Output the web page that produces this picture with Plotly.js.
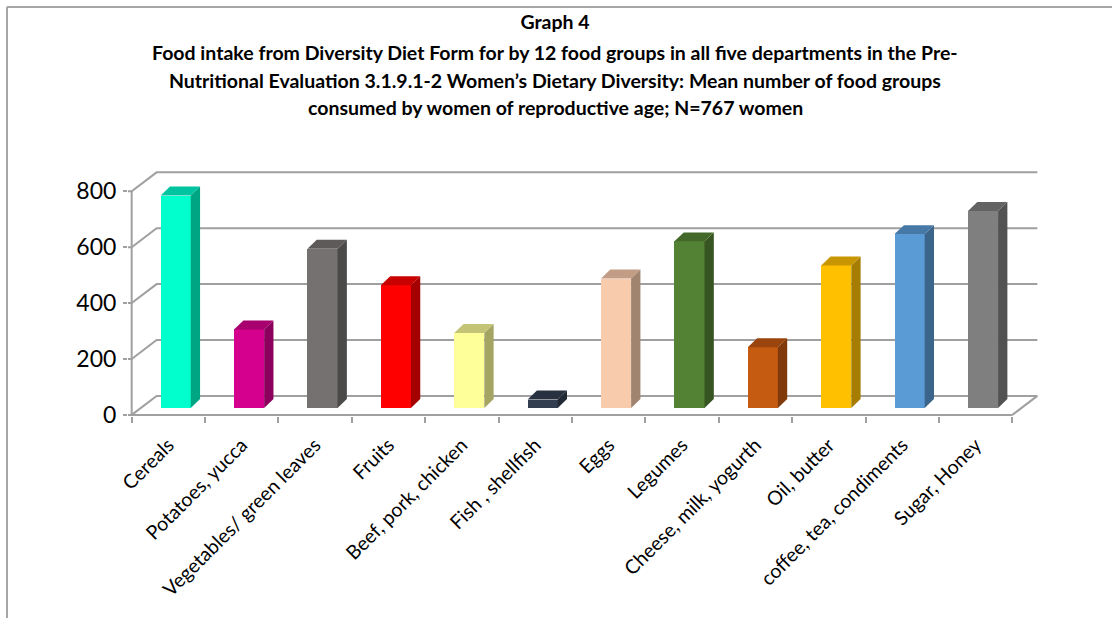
<!DOCTYPE html>
<html>
<head>
<meta charset="utf-8">
<script src="https://cdn.plot.ly/plotly-3.0.1.min.js"></script>
<style>html,body{margin:0;padding:0;background:#fff;}#chart{width:1112px;height:618px;}</style>
</head>
<body>
<div id="chart"></div>
<script>
// ---- data ----
const categories = ["Cereals", "Potatoes, yucca", "Vegetables/ green leaves", "Fruits", "Beef, pork, chicken",
  "Fish , shellfish", "Eggs", "Legumes", "Cheese, milk, yogurth", "Oil, butter", "coffee, tea, condiments", "Sugar, Honey"];
const values = [760, 281, 570, 439, 268, 30, 463, 596, 217, 510, 622, 705];
const yTicks = [0, 200, 400, 600, 800];

// ---- styles ----
const frontColors = ['#00FFCC','#D6008F','#767171','#FF0000','#FFFF99','#333F50','#F8CBAD','#548235','#C55A11','#FFC000','#5B9BD5','#7F7F7F'];
const sideColors  = ['#00A583','#8B005D','#4C4949','#A50000','#A5A563','#212934','#A18470','#375522','#80390B','#A67D00','#3B658A','#525252'];
const topColors   = ['#00C49F','#A8006F','#5E5A5A','#C80000','#C4C476','#283140','#C29C85','#43682A','#9A450D','#C89600','#4779A6','#636363'];
const gridColor = '#a0a0a0';
const FONT = 'Lato, "Open Sans", sans-serif';

// ---- geometry (oblique 3D projection, in axis units) ----
const W = 1112, H = 618;
const M = {l: 128, r: 71, t: 169, b: 202};
const xRange = [-0.55, 11.89];
const yRange = [-4, 880];
const wallDX = 0.34, wallDY = 68;     // depth of walls/floor
const barFX = 0.10, barFY = 25;       // bar front-face offset into depth
const barDX = 0.127, barDY = 32;      // bar depth
const barW = 0.41;

const plotW = W - M.l - M.r, plotH = H - M.t - M.b;
const paperX = px => (px - M.l) / plotW;
const paperY = py => ((H - M.b) - py) / plotH;

const idx = categories.map((_, i) => i);
const traces = [];

// front faces
traces.push({
  type: 'bar', x: idx.map(i => i + barFX), y: values, base: values.map(() => barFY),
  width: barW, marker: {color: frontColors, line: {width: 0}}, hoverinfo: 'skip', cliponaxis: false
});
// side and top faces
values.forEach((v, i) => {
  const xL = i + barFX - barW / 2, xR = i + barFX + barW / 2;
  const y0 = barFY, y1 = barFY + v;
  traces.push({
    type: 'scatter', mode: 'lines', fill: 'toself', hoverinfo: 'skip',
    x: [xR, xR, xR + barDX, xR + barDX, xR], y: [y0, y1, y1 + barDY, y0 + barDY, y0],
    fillcolor: sideColors[i], line: {width: 0, color: sideColors[i]}
  });
  traces.push({
    type: 'scatter', mode: 'lines', fill: 'toself', hoverinfo: 'skip',
    x: [xL, xR, xR + barDX, xL + barDX, xL], y: [y1, y1, y1 + barDY, y1 + barDY, y1],
    fillcolor: topColors[i], line: {width: 0, color: topColors[i]}
  });
});

// walls, gridlines, floor
const shapes = [];
const ln = {color: gridColor, width: 2};
const x0 = -0.5, x1 = categories.length - 0.5;
yTicks.forEach(g => {
  shapes.push({type: 'path', layer: 'below', line: ln,
    path: `M ${xRange[0]},${g} L ${x0},${g} L ${x0 + wallDX},${g + wallDY} L ${x1 + wallDX},${g + wallDY}`});
});
shapes.push({type: 'line', layer: 'below', line: ln, x0: x0, x1: x0, y0: 0, y1: yTicks[yTicks.length - 1]});
shapes.push({type: 'line', layer: 'below', line: ln, x0: x0, x1: x1, y0: 0, y1: 0});
shapes.push({type: 'line', layer: 'below', line: ln, x0: x1, x1: x1 + wallDX, y0: 0, y1: wallDY});
// chart frame
shapes.push({type: 'line', xref: 'paper', yref: 'paper', line: {color: '#a6a6a6', width: 2},
  x0: paperX(7), x1: paperX(W), y0: paperY(7), y1: paperY(7)});
shapes.push({type: 'line', xref: 'paper', yref: 'paper', line: {color: '#a6a6a6', width: 2},
  x0: paperX(7), x1: paperX(7), y0: paperY(7), y1: paperY(H)});

const titleLines = [
  'Food intake from Diversity Diet Form for by 12 food groups in all five departments in the Pre-',
  'Nutritional Evaluation 3.1.9.1-2 Women\u2019s Dietary Diversity: Mean number of food groups',
  'consumed by women of reproductive age; N=767 women'
];
const titleY = [52, 80, 107];
const annotations = titleLines.map((t, k) => ({
  text: '<b>' + t + '</b>', xref: 'paper', yref: 'paper', x: paperX(555), y: paperY(titleY[k]),
  xanchor: 'center', yanchor: 'middle', showarrow: false, font: {family: FONT, size: 19.5, color: '#000'}
}));

const layout = {
  width: W, height: H, margin: {l: M.l, r: M.r, t: M.t, b: M.b, pad: 0},
  paper_bgcolor: '#fff', plot_bgcolor: '#fff', showlegend: false, bargap: 0,
  title: {text: '<b>Graph 4</b>', xref: 'container', yref: 'container', x: 555 / W, y: 1 - 22 / H,
    xanchor: 'center', yanchor: 'middle', font: {family: FONT, size: 19.5, color: '#000'}},
  xaxis: {type: 'linear', range: xRange, tickmode: 'array', tickvals: idx, ticktext: categories,
    tickangle: -45, ticks: '', showgrid: false, zeroline: false, showline: false,
    tickfont: {family: FONT, size: 19.5, color: '#000'}, ticklabelstandoff: 13,
    minor: {tickmode: 'array', tickvals: idx.map(i => i - 0.5).concat([x1]), ticks: 'outside', ticklen: 6,
      tickwidth: 2, tickcolor: gridColor, showgrid: false}},
  yaxis: {range: yRange, tickmode: 'array', tickvals: yTicks, ticks: 'outside', ticklen: 4, tickwidth: 2,
    tickcolor: gridColor, showgrid: false, zeroline: false, showline: false,
    tickfont: {family: FONT, size: 23, color: '#000'}, ticklabelstandoff: 2},
  shapes: shapes, annotations: annotations
};

Plotly.newPlot('chart', traces, layout, {displayModeBar: false, staticPlot: true});
</script>
</body>
</html>
